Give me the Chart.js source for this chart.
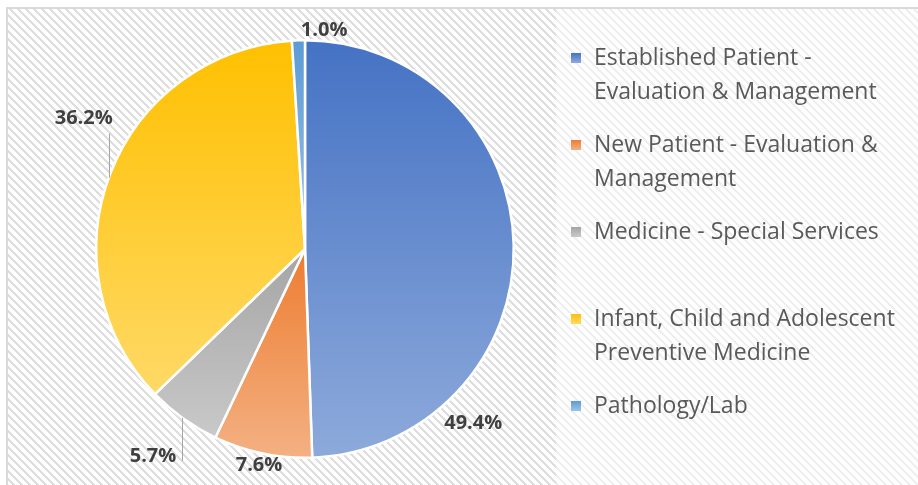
<!DOCTYPE html>
<html lang="en">
<head>
<meta charset="UTF-8">
<title>Share of visits by service category</title>
<script src="https://cdn.jsdelivr.net/npm/chart.js@4.4.1/dist/chart.umd.min.js"></script>
<style>
  body { margin: 0; background: #fff; }
  canvas { display: block; }
</style>
</head>
<body>
<canvas id="pie" width="918" height="485"></canvas>
<script>
// data
const categories = [
  'Established Patient - Evaluation & Management',
  'New Patient - Evaluation & Management',
  'Medicine - Special Services',
  'Infant, Child and Adolescent Preventive Medicine',
  'Pathology/Lab'
];
const shares = [49.4, 7.6, 5.7, 36.2, 1.0];

// gradient colours, top -> bottom of each slice
const topColors = ['#4472c4', '#ed7d31', '#a5a5a5', '#ffc000', '#5b9bd5'];
const bottomColors = ['#8eaadb', '#f4b183', '#c9c9c9', '#ffd966', '#9dc3e6'];

// where each % label sits: angle (deg, clockwise from 3 o'clock), distance in radii
const labelAngle = [46, 102, 126.3, 210.5, 275];
const labelDist = [1.16, 1.06, 1.23, 1.23, 1.05];
// leader lines (offset from label centre), null = none
const leaders = [null, null, {dx: 29, dy: 5}, {dx: 25, dy: 15}, null];

const total = shares.reduce((a, b) => a + b, 0);

function sliceGradient(ctx) {
  const i = ctx.dataIndex;
  const chart = ctx.chart;
  const area = chart.chartArea;
  if (!area) return topColors[i];
  const cx = (area.left + area.right) / 2;
  const cy = (area.top + area.bottom) / 2;
  const r = Math.min(area.width, area.height) / 2;
  let start = -Math.PI / 2;
  for (let k = 0; k < i; k++) start += shares[k] / total * 2 * Math.PI;
  const end = start + shares[i] / total * 2 * Math.PI;
  const ys = [cy, cy + r * Math.sin(start), cy + r * Math.sin(end)];
  [Math.PI / 2, 3 * Math.PI / 2].forEach(a => {
    if (a >= start && a <= end) ys.push(cy + r * Math.sin(a));
  });
  const g = chart.ctx.createLinearGradient(0, Math.min(...ys), 0, Math.max(...ys));
  g.addColorStop(0, topColors[i]);
  g.addColorStop(1, bottomColors[i]);
  return g;
}

function hatchPattern(ctx) {
  const c = document.createElement('canvas');
  c.width = 8; c.height = 8;
  const x = c.getContext('2d');
  x.fillStyle = '#ffffff';
  x.fillRect(0, 0, 8, 8);
  x.fillStyle = '#dedede';
  for (let i = 0; i < 8; i++)
    for (let j = 0; j < 8; j++)
      if ((((i - j) % 8) + 8) % 8 < 3) x.fillRect(i, j, 1, 1);
  return ctx.createPattern(c, 'repeat');
}

// background frame + hatch
const backdrop = {
  id: 'backdrop',
  beforeDraw(chart) {
    const ctx = chart.ctx;
    ctx.save();
    ctx.fillStyle = '#fff';
    ctx.fillRect(0, 0, chart.width, chart.height);
    ctx.fillStyle = hatchPattern(ctx);
    ctx.fillRect(7, 8, chart.width - 7, chart.height - 8);
    ctx.fillStyle = 'rgba(255,255,255,0.5)';
    ctx.fillRect(556, 9, chart.width - 556, chart.height - 9);
    ctx.strokeStyle = '#d9d9d9';
    ctx.lineWidth = 2;
    ctx.beginPath();
    ctx.moveTo(7, chart.height);
    ctx.lineTo(7, 8);
    ctx.lineTo(chart.width, 8);
    ctx.stroke();
    ctx.restore();
  }
};

// % labels outside the pie
const pctLabels = {
  id: 'pctLabels',
  afterDatasetsDraw(chart) {
    const ctx = chart.ctx;
    const arcs = chart.getDatasetMeta(0).data;
    ctx.save();
    ctx.font = 'bold 20px "Open Sans", sans-serif';
    ctx.fillStyle = '#404040';
    ctx.textAlign = 'center';
    ctx.textBaseline = 'middle';
    arcs.forEach((arc, i) => {
      const r = arc.outerRadius;
      const a = labelAngle[i] * Math.PI / 180;
      const lx = arc.x + Math.cos(a) * r * labelDist[i];
      const ly = arc.y + Math.sin(a) * r * labelDist[i];
      ctx.fillText(shares[i].toFixed(1) + '%', lx, ly);
      const ld = leaders[i];
      if (ld) {
        const x = lx + ld.dx;
        const sign = ly > arc.y ? 1 : -1;
        const edge = arc.y + sign * Math.sqrt(Math.max(r * r - (x - arc.x) ** 2, 0));
        ctx.strokeStyle = '#a6a6a6';
        ctx.lineWidth = 1;
        ctx.beginPath();
        ctx.moveTo(Math.round(x) + 0.5, ly + ld.dy);
        ctx.lineTo(Math.round(x) + 0.5, edge);
        ctx.stroke();
      }
    });
    ctx.restore();
  }
};

// legend on the right with wrapped text
const sideLegend = {
  id: 'sideLegend',
  afterDraw(chart) {
    const ctx = chart.ctx;
    const textX = 594, maxW = 312, lineH = 34, step = 87;
    let y = 58;
    ctx.save();
    ctx.font = '23px "Open Sans", sans-serif';
    ctx.textBaseline = 'middle';
    categories.forEach((label, i) => {
      const words = label.split(' ');
      const lines = [];
      let cur = '';
      words.forEach(w => {
        const test = cur ? cur + ' ' + w : w;
        if (ctx.measureText(test).width > maxW && cur) {
          lines.push(cur);
          cur = w;
        } else cur = test;
      });
      lines.push(cur);
      const g = ctx.createLinearGradient(0, y - 5, 0, y + 5);
      g.addColorStop(0, topColors[i]);
      g.addColorStop(1, bottomColors[i]);
      ctx.fillStyle = g;
      ctx.fillRect(571, y - 5, 10, 10);
      ctx.fillStyle = '#595959';
      lines.forEach((ln, k) => ctx.fillText(ln, textX, y + k * lineH));
      y += step;
    });
    ctx.restore();
  }
};

new Chart(document.getElementById('pie'), {
  type: 'pie',
  data: {
    labels: categories,
    datasets: [{
      data: shares,
      backgroundColor: sliceGradient,
      borderColor: '#ffffff',
      borderWidth: 2.5
    }]
  },
  options: {
    responsive: false,
    animation: false,
    layout: { padding: { left: 95, right: 403, top: 39, bottom: 26 } },
    plugins: {
      legend: { display: false },
      tooltip: { enabled: false }
    }
  },
  plugins: [backdrop, pctLabels, sideLegend]
});
</script>
</body>
</html>
